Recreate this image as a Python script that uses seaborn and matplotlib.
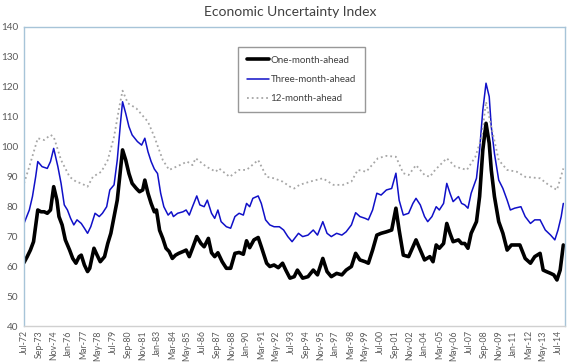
import numpy as np
import pandas as pd
import matplotlib
matplotlib.use("Agg")
import matplotlib.pyplot as plt
import seaborn as sns

# ---------------- data ----------------
title = "Economic Uncertainty Index"
series_names = ["One-month-ahead", "Three-month-ahead", "12-month-ahead"]
first_month = "1972-07"
n_months = 510          # Jul-72 .. Dec-14 (monthly category axis)
tick_every = 14         # a label every 14 months
y_ticks = [40, 50, 60, 70, 80, 90, 100, 110, 120, 130, 140]

# observations: month index (0 = Jul-72) and value
one_idx = [0, 3, 6, 9, 13, 16, 19, 22, 25, 28, 31, 33, 36, 39, 43, 46, 49, 52, 54, 57,
           60, 62, 66, 69, 72, 76, 79, 82, 85, 88, 91, 93, 96, 99, 102, 106, 109, 112, 114, 117,
           120, 123, 125, 128, 131, 134, 137, 140, 143, 146, 150, 153, 156, 159, 163, 167, 170, 174, 177, 180,
           183, 187, 191, 195, 199, 203, 207, 210, 213, 217, 221, 224, 229, 232, 236, 240, 244, 247, 251, 255,
           258, 263, 268, 273, 277, 282, 286, 290, 295, 300, 304, 309, 313, 317, 322, 325, 329, 333, 337, 342,
           347, 351, 354, 358, 363, 367, 370, 374, 378, 383, 386, 389, 392, 396, 399, 402, 405, 410, 413, 416,
           419, 422, 427, 430, 433, 436, 439, 441, 444, 448, 452, 456, 460, 463, 468, 473, 478, 482, 487, 490,
           493, 497, 500, 503, 506, 509]
one_val = [61.2, 63.2, 65.4, 68.2, 78.8, 78.2, 78.2, 77.7, 78.8, 86.6, 82.1, 76.6, 73.8, 68.8, 65.4, 62.6, 61.0, 63.2, 63.7, 60.4,
           58.2, 59.3, 66.0, 63.7, 61.5, 63.2, 67.6, 71.0, 76.6, 82.1, 92.2, 98.9, 95.5, 91.0, 87.7, 86.0, 84.9, 85.5, 88.8, 84.4,
           81.0, 78.2, 78.8, 72.0, 69.3, 66.0, 64.9, 62.6, 63.7, 64.3, 64.9, 65.4, 63.2, 66.0, 69.9, 67.6, 66.5, 69.3, 64.5, 63.2,
           64.5, 61.5, 59.3, 59.3, 64.3, 64.6, 64.0, 68.5, 66.2, 68.8, 69.6, 66.5, 61.0, 59.9, 60.4, 59.5, 61.0, 58.7, 56.0, 56.5,
           58.7, 56.0, 56.5, 58.7, 57.1, 62.6, 58.2, 56.5, 57.6, 57.1, 58.7, 59.9, 64.3, 62.1, 61.5, 61.0, 65.4, 70.4, 71.0, 71.5,
           72.1, 79.4, 72.1, 63.7, 63.2, 66.5, 68.8, 65.4, 62.1, 63.2, 61.5, 67.1, 66.0, 67.6, 74.3, 71.0, 68.2, 68.8, 67.6, 67.6,
           66.0, 71.0, 74.9, 83.3, 98.9, 107.8, 101.1, 92.2, 83.3, 74.9, 71.0, 65.4, 67.1, 67.1, 67.1, 62.6, 61.0, 63.2, 64.3, 58.7,
           58.2, 57.6, 57.1, 55.4, 58.7, 67.1]

three_idx = [0, 5, 8, 11, 13, 17, 22, 25, 28, 32, 35, 38, 41, 44, 47, 50, 54, 57, 60, 63,
             67, 71, 74, 78, 81, 85, 88, 91, 93, 96, 99, 102, 107, 111, 114, 117, 120, 123, 126, 129,
             132, 136, 139, 141, 145, 150, 153, 156, 159, 163, 166, 170, 173, 177, 180, 183, 186, 191, 195, 199,
             203, 207, 210, 213, 216, 221, 224, 228, 232, 236, 241, 245, 249, 253, 259, 263, 268, 273, 277, 282,
             286, 290, 295, 300, 304, 309, 313, 317, 322, 325, 329, 333, 337, 342, 347, 351, 354, 358, 363, 367,
             370, 374, 378, 381, 385, 389, 392, 396, 399, 402, 405, 410, 413, 416, 419, 422, 427, 430, 433, 436,
             439, 441, 444, 448, 452, 456, 459, 463, 469, 473, 478, 482, 487, 492, 497, 501, 504, 507, 509]
three_val = [74.3, 78.8, 83.3, 89.9, 95.0, 93.3, 92.7, 95.0, 99.4, 93.3, 87.7, 80.5, 78.8, 76.0, 73.8, 75.5, 74.3, 72.7, 71.0, 73.2,
             77.7, 76.6, 77.7, 79.9, 85.5, 87.2, 95.5, 107.8, 115.0, 111.1, 106.7, 103.9, 101.7, 100.5, 102.8, 98.3, 95.0, 92.5, 91.0, 84.4,
             79.9, 77.1, 78.2, 76.6, 77.7, 78.2, 78.8, 77.1, 79.9, 83.5, 80.5, 79.9, 82.1, 77.7, 76.0, 78.8, 74.9, 73.2, 72.7, 76.6,
             77.7, 77.1, 81.0, 79.9, 82.7, 83.5, 81.0, 75.5, 73.8, 73.2, 73.2, 72.1, 69.9, 68.2, 71.0, 69.9, 70.4, 72.1, 70.4, 74.9,
             71.0, 69.9, 71.0, 70.4, 71.5, 73.8, 77.9, 76.6, 76.0, 75.5, 78.8, 84.4, 83.8, 85.5, 86.0, 91.1, 82.1, 77.1, 77.7, 81.0,
             82.7, 80.5, 76.6, 74.9, 76.6, 79.9, 78.8, 81.0, 87.7, 84.4, 81.6, 83.3, 81.0, 80.5, 79.4, 84.4, 89.4, 98.9, 112.2, 121.2,
             116.7, 106.7, 97.7, 88.8, 86.0, 82.1, 78.8, 79.4, 79.9, 76.6, 74.3, 75.5, 75.5, 72.1, 70.4, 68.8, 72.1, 76.6, 81.0]

twelve_idx = [0, 5, 13, 19, 25, 28, 35, 43, 49, 54, 60, 65, 73, 79, 85, 90, 93, 98, 106, 117,
              123, 131, 137, 147, 154, 159, 162, 172, 181, 184, 194, 203, 210, 221, 229, 236, 244, 251, 255, 260,
              270, 282, 292, 301, 309, 315, 323, 334, 342, 351, 358, 363, 370, 378, 383, 388, 399, 407, 418, 426,
              432, 436, 441, 448, 456, 465, 473, 487, 495, 503, 509]
twelve_val = [87.7, 93.3, 102.8, 102.2, 103.9, 103.3, 95.5, 89.9, 88.3, 87.7, 86.6, 89.9, 91.6, 95.5, 103.3, 113.4, 118.7, 114.5, 112.8, 108.3,
              103.3, 95.5, 92.2, 93.8, 95.0, 93.8, 96.1, 93.3, 91.6, 92.7, 89.9, 92.2, 92.2, 95.5, 89.9, 89.4, 88.3, 86.6, 86.0, 87.2,
              88.3, 89.4, 87.2, 87.2, 88.3, 92.2, 91.6, 96.1, 96.9, 96.6, 91.1, 90.5, 93.8, 90.5, 89.9, 92.2, 96.1, 93.3, 92.2, 96.6,
              103.3, 115.0, 106.7, 95.5, 92.2, 91.6, 89.9, 89.4, 87.2, 85.5, 92.7]

# ---------------- build tidy table ----------------
months = pd.period_range(first_month, periods=n_months, freq="M").to_timestamp()
frames = []
for name, idx, val in zip(series_names,
                          [one_idx, three_idx, twelve_idx],
                          [one_val, three_val, twelve_val]):
    frames.append(pd.DataFrame({"date": months[idx], "value": val, "series": name}))
df = pd.concat(frames, ignore_index=True)

# ---------------- plot ----------------
sns.set_theme(style="white")
plt.rcParams["font.family"] = ["Lato", "DejaVu Sans"]

fig = plt.figure(figsize=(5.72, 3.64), dpi=100)
ax = fig.add_axes([24 / 572, 1 - 326 / 364, 541 / 572, 299 / 364])

palette = {"One-month-ahead": "#000000", "Three-month-ahead": "#1010C8", "12-month-ahead": "#A6A6A6"}
widths = {"One-month-ahead": 2.6, "Three-month-ahead": 1.1, "12-month-ahead": 1.3}
styles = {"One-month-ahead": "-", "Three-month-ahead": "-", "12-month-ahead": ":"}

for name in series_names:
    sub = df[df["series"] == name]
    sns.lineplot(data=sub, x="date", y="value", ax=ax, color=palette[name],
                 linewidth=widths[name], linestyle=styles[name], label=name,
                 estimator=None, sort=False)

ax.set_ylim(40, 140)
ax.set_yticks(y_ticks)
ax.set_xlim(months[0], pd.Timestamp("2015-01-18"))
tick_dates = months[::tick_every]
ax.set_xticks(tick_dates)
ax.set_xticklabels([d.strftime("%b-%y") for d in tick_dates], rotation=90,
                   fontsize=6.3, color="#595959")
ax.tick_params(axis="y", labelsize=7.2, labelcolor="#595959", length=0, pad=4)
ax.tick_params(axis="x", length=0, pad=3)
ax.set_xlabel("")
ax.set_ylabel("")
ax.grid(False)

for side in ["left", "top", "right"]:
    ax.spines[side].set_color("#A7C4D8")
    ax.spines[side].set_linewidth(1.0)
ax.spines["bottom"].set_color("#D0D0D0")
ax.spines["bottom"].set_linewidth(1.0)

fig.text(0.507, 1 - 12 / 364, title, ha="center", va="center", fontsize=10, color="#404040")

leg = ax.legend(loc="upper left", bbox_to_anchor=((238 - 24) / 541, 1 - (47 - 27) / 299),
                borderaxespad=0, frameon=True, fancybox=False, fontsize=7,
                handlelength=2.3, handletextpad=0.15, labelspacing=1.05, borderpad=0.9)
leg.get_frame().set_edgecolor("#7F7F7F")
leg.get_frame().set_linewidth(1.0)
for t in leg.get_texts():
    t.set_color("#404040")

fig.savefig("out.png", dpi=100)
